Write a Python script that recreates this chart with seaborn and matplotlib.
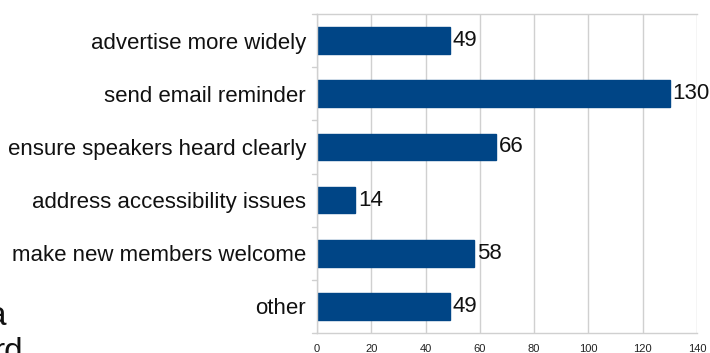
import matplotlib
matplotlib.use("Agg")
import matplotlib.pyplot as plt
import seaborn as sns
import pandas as pd

categories = ["advertise more widely", "send email reminder", "ensure speakers heard clearly",
              "address accessibility issues", "make new members welcome", "other"]
values = [49, 130, 66, 14, 58, 49]
x_ticks = [0, 20, 40, 60, 80, 100, 120, 140]

sns.set_style("white")
plt.rcParams['font.family'] = ['Liberation Sans', 'DejaVu Sans']

GRID = "#d0d0d0"
W, H = 710, 353
fig = plt.figure(figsize=(W / 100, H / 100), dpi=100)
ax = fig.add_axes([317 / W, 20 / H, (697 - 317) / W, (333 - 14) / H])

df = pd.DataFrame({"cat": categories, "val": values})
sns.barplot(data=df, x="val", y="cat", orient="h", color="#004586", width=0.5,
            saturation=1, ax=ax, edgecolor="#004586")

# category boundary ticks on left
for i in range(len(categories) + 1):
    b = i - 0.5
    ax.plot([-0.013, 0], [b, b], transform=ax.get_yaxis_transform(), color=GRID,
            lw=1, clip_on=False, scalex=False, scaley=False)

ax.set_xlim(0, 140)
ax.set_ylim(len(categories) - 0.5, -0.5)
ax.set_xticks(x_ticks)
ax.set_xticklabels([str(t) for t in x_ticks], fontsize=8, color="#222222")
ax.set_xlabel("")
ax.set_ylabel("")
ax.tick_params(axis="y", labelsize=16, length=0, pad=8, colors="#111111")
ax.tick_params(axis="x", length=6, color=GRID, pad=2)

ax.grid(axis="x", color=GRID, lw=1)
ax.set_axisbelow(True)
for s in ["left", "bottom", "top"]:
    ax.spines[s].set_color(GRID)
    ax.spines[s].set_linewidth(1)
ax.spines["right"].set_visible(False)

ax.bar_label(ax.containers[0], labels=[str(v) for v in values], padding=2, fontsize=16,
             color="#111111")

# cut-off text fragments at bottom-left
fig.text(6 / W, (H - 325) / H, "a", ha="right", va="baseline", fontsize=24, color="#111111")
fig.text(23 / W, (H - 361) / H, "rd", ha="right", va="baseline", fontsize=24, color="#111111")

fig.savefig("out.png", dpi=100)
